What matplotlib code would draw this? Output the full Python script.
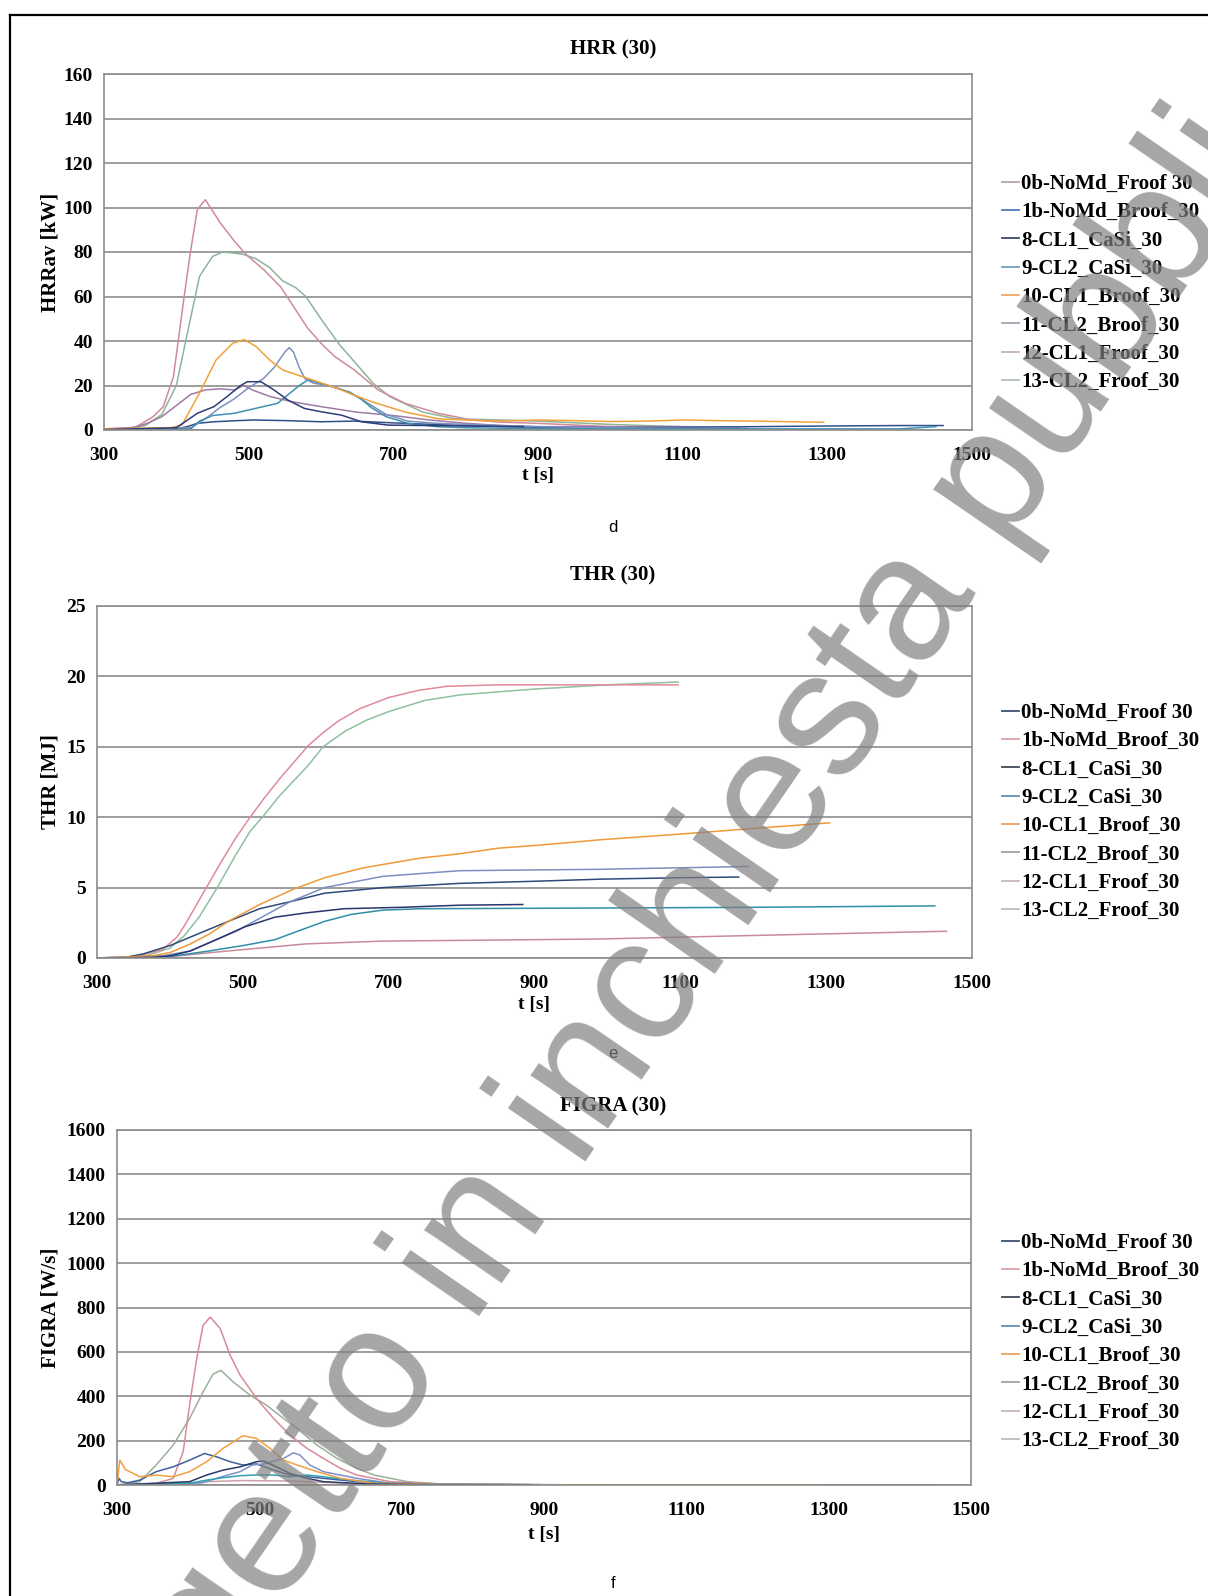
import matplotlib
matplotlib.use("Agg")
import matplotlib.pyplot as plt
from matplotlib.lines import Line2D
import numpy as np

plt.rcParams['font.family'] = ['Liberation Serif', 'DejaVu Serif']

W, H = 1208, 1596

series_names = ["0b-NoMd_Froof 30", "1b-NoMd_Broof_30", "8-CL1_CaSi_30", "9-CL2_CaSi_30",
                "10-CL1_Broof_30", "11-CL2_Broof_30", "12-CL1_Froof_30", "13-CL2_Froof_30"]

# ---------------- HRR data (t [s], HRRav [kW]) ----------------
hrr_0b_t = [300, 340, 360, 380, 400, 420, 440, 460, 480, 493, 505, 530, 560, 600, 650, 700, 750, 800, 850, 900, 1000, 1100, 1180]
hrr_0b_v = [0.5, 1, 3, 6, 11, 16, 18, 18.5, 18, 20, 18, 15, 12.7, 10.5, 8, 6.5, 4.5, 3, 2, 1.5, 1.5, 1.5, 1.2]
hrr_1b_t = [300, 330, 345, 368, 382, 396, 410, 419, 429, 440, 461, 480, 496, 521, 544, 563, 581, 600, 619, 646, 679, 716, 762, 808, 850, 900, 1000, 1097]
hrr_1b_v = [0.5, 0.8, 1.5, 6, 10.5, 24, 58, 79, 99, 103.5, 93, 85, 79, 72, 64.4, 55, 46, 39, 33, 27, 18, 12, 7.5, 4.5, 3.5, 3, 1.5, 1]
hrr_8_t = [300, 400, 429, 452, 470, 489, 498, 517, 535, 554, 577, 600, 628, 656, 693, 750, 800, 880]
hrr_8_v = [0.2, 1, 7.5, 10.5, 15, 20, 21.7, 21.7, 18, 13.5, 9.7, 8.2, 6.7, 3.7, 2.2, 2, 1.8, 1.5]
hrr_9_t = [300, 420, 432, 450, 480, 500, 520, 540, 555, 570, 582, 600, 620, 640, 655, 670, 690, 720, 760, 800, 900, 1000, 1100, 1200, 1300, 1400, 1450]
hrr_9_v = [0.2, 0.5, 4, 6.5, 7.5, 9, 10.5, 12, 16, 20, 22.5, 21, 19, 17, 14, 10, 6, 3, 1.5, 1, 0.6, 0.5, 0.5, 0.5, 0.5, 0.5, 1.5]
hrr_10_t = [300, 392, 408, 432, 455, 478, 494, 510, 529, 547, 565, 593, 625, 648, 672, 717, 763, 800, 850, 900, 950, 1000, 1050, 1100, 1150, 1200, 1250, 1295]
hrr_10_v = [0.5, 1, 2.3, 16.6, 31.5, 39, 40.6, 37.6, 31.5, 27, 25, 22, 18.4, 15.4, 12.5, 8, 5, 4.5, 4, 4.5, 4.2, 3.8, 4, 4.5, 4.2, 4, 3.7, 3.5]
hrr_11_t = [300, 420, 440, 460, 480, 500, 520, 535, 550, 556, 562, 570, 578, 590, 610, 630, 650, 670, 690, 720, 760, 800, 900, 1000, 1100, 1190]
hrr_11_v = [0.2, 1, 5, 10, 14, 19, 23, 28, 35, 37, 35, 28, 23, 21, 20, 18, 15, 11, 7, 4, 3, 2.5, 1.5, 1, 0.8, 0.8]
hrr_12_t = [300, 400, 415, 429, 452, 484, 507, 554, 600, 646, 693, 739, 800, 900, 1000, 1100, 1200, 1300, 1400, 1460]
hrr_12_v = [0.2, 0.5, 1.5, 3, 3.7, 4.2, 4.5, 4.2, 3.7, 4, 3.3, 2.7, 2, 1.2, 1, 1.2, 1.5, 1.8, 2, 2]
hrr_13_t = [300, 340, 357, 380, 400, 413, 432, 450, 464, 480, 492, 510, 529, 547, 565, 579, 602, 625, 648, 672, 695, 741, 787, 850, 900, 1000, 1097]
hrr_13_v = [0.3, 0.8, 2, 7, 20, 40, 69, 78, 80, 79.5, 79, 77, 73, 67, 64, 60, 49, 38.6, 30, 21, 15, 8, 5, 4.5, 4, 2.5, 1.5]

# ---------------- THR data (t [s], THR [MJ]) ----------------
thr_0b_t = [300, 340, 364, 401, 438, 480, 523, 565, 612, 692, 797, 900, 991, 1100, 1180]
thr_0b_v = [0, 0.05, 0.3, 0.9, 1.7, 2.6, 3.5, 4.0, 4.6, 5.0, 5.3, 5.45, 5.6, 5.7, 5.75]
thr_1b_t = [300, 330, 360, 390, 410, 420, 430, 450, 470, 490, 510, 530, 550, 570, 590, 610, 630, 660, 700, 740, 780, 850, 1000, 1097]
thr_1b_v = [0, 0, 0.2, 0.6, 1.5, 2.3, 3.2, 5.0, 6.8, 8.5, 10.0, 11.4, 12.7, 13.9, 15.1, 16.0, 16.8, 17.7, 18.5, 19.0, 19.3, 19.4, 19.4, 19.4]
thr_8_t = [300, 380, 401, 428, 459, 502, 544, 586, 639, 718, 797, 884]
thr_8_v = [0, 0.05, 0.16, 0.5, 1.2, 2.2, 2.9, 3.2, 3.5, 3.6, 3.75, 3.8]
thr_9_t = [300, 400, 454, 502, 544, 575, 612, 649, 692, 744, 991, 1200, 1449]
thr_9_v = [0, 0.1, 0.5, 0.9, 1.3, 1.9, 2.6, 3.1, 3.4, 3.5, 3.55, 3.6, 3.7]
thr_10_t = [300, 375, 401, 428, 454, 480, 523, 570, 612, 665, 744, 797, 850, 903, 991, 1100, 1200, 1305]
thr_10_v = [0, 0.15, 0.4, 1.0, 1.7, 2.6, 3.8, 4.9, 5.7, 6.4, 7.1, 7.4, 7.8, 8.0, 8.4, 8.8, 9.2, 9.6]
thr_11_t = [300, 391, 428, 459, 491, 533, 565, 612, 692, 797, 991, 1193]
thr_11_v = [0, 0.16, 0.5, 1.2, 1.9, 3.1, 4.0, 5.0, 5.8, 6.2, 6.3, 6.5]
thr_12_t = [300, 391, 428, 480, 533, 586, 639, 692, 797, 991, 1200, 1465]
thr_12_v = [0, 0.05, 0.24, 0.5, 0.75, 1.0, 1.1, 1.2, 1.25, 1.35, 1.6, 1.9]
thr_13_t = [300, 330, 370, 400, 420, 440, 465, 490, 510, 530, 550, 570, 590, 610, 640, 670, 700, 750, 800, 900, 1000, 1097]
thr_13_v = [0, 0, 0.2, 0.7, 1.6, 2.9, 5.0, 7.3, 9.0, 10.2, 11.5, 12.6, 13.7, 15.0, 16.1, 16.9, 17.5, 18.3, 18.7, 19.1, 19.4, 19.6]

# ---------------- FIGRA data (t [s], FIGRA [W/s]) ----------------
fig_0b_t = [300, 303, 306, 315, 332, 355, 379, 402, 423, 440, 459, 477, 496, 520, 543, 590, 637, 684, 800, 1000, 1180]
fig_0b_v = [0, 30, 15, 10, 22, 60, 82, 112, 142, 127, 105, 90, 95, 67, 45, 30, 15, 7, 2, 0.5, 0.5]
fig_1b_t = [300, 355, 379, 393, 402, 412, 421, 431, 445, 459, 473, 496, 520, 543, 567, 590, 614, 637, 684, 750, 900, 1097]
fig_1b_v = [0, 7, 30, 150, 360, 570, 720, 757, 705, 585, 495, 390, 300, 225, 165, 120, 75, 45, 15, 5, 1, 0]
fig_8_t = [300, 402, 426, 449, 473, 496, 506, 524, 543, 567, 590, 650, 750, 880]
fig_8_v = [0, 15, 45, 67, 82, 105, 108, 82, 52, 30, 15, 5, 1, 0.5]
fig_9_t = [300, 402, 426, 449, 473, 496, 520, 543, 567, 590, 628, 684, 800, 1000, 1200, 1450]
fig_9_v = [0, 8, 22, 33, 42, 45, 45, 37, 45, 37, 22, 7, 2, 0.5, 0.5, 0.5]
fig_10_t = [300, 304, 312, 332, 355, 379, 402, 426, 449, 477, 496, 515, 534, 553, 581, 614, 661, 750, 900, 1100, 1295]
fig_10_v = [0, 112, 70, 37, 45, 37, 60, 105, 165, 222, 210, 165, 112, 90, 60, 30, 8, 3, 1, 0.5, 0.5]
fig_11_t = [300, 420, 450, 473, 490, 506, 534, 548, 557, 571, 590, 637, 684, 800, 1000, 1190]
fig_11_v = [0, 10, 40, 60, 90, 95, 120, 145, 135, 90, 60, 30, 8, 2, 0.5, 0.5]
fig_12_t = [300, 400, 426, 473, 543, 590, 637, 700, 800, 1000, 1200, 1460]
fig_12_v = [0, 3, 15, 20, 18, 12, 6, 3, 1, 0.5, 0.5, 0.5]
fig_13_t = [300, 332, 355, 379, 402, 421, 435, 446, 463, 487, 510, 534, 553, 581, 609, 637, 661, 708, 750, 900, 1097]
fig_13_v = [0, 15, 90, 180, 300, 420, 500, 517, 465, 405, 360, 300, 255, 180, 120, 75, 45, 15, 6, 1, 0]

x_ticks = [300, 500, 700, 900, 1100, 1300, 1500]
hrr_yticks = [0, 20, 40, 60, 80, 100, 120, 140, 160]
thr_yticks = [0, 5, 10, 15, 20, 25]
fig_yticks = [0, 200, 400, 600, 800, 1000, 1200, 1400, 1600]

# colours (curves / legend swatches) per chart
hrr_colors = ['#A07AA6', '#CF8A9E', '#2B3C78', '#3E8FB0', '#F2A03A', '#7E90C0', '#30508A', '#8DB597']
hrr_leg_colors = ['#B8A4AE', '#4A7EBB', '#3A4A6A', '#6FA0C0', '#F0A868', '#9CA6B2', '#C8B0B4', '#B0C0B0']
thr_colors = ['#2E4A7A', '#E08A9A', '#2A3570', '#2F8FA8', '#EE9A3A', '#7D8FC0', '#C88C98', '#8FC0A0']
thr_leg_colors = ['#3A5070', '#E0A0A8', '#404858', '#5F8FB0', '#E8A060', '#A0A0A8', '#C8B4B8', '#B8C0B8']
fig_colors = ['#3F5F9F', '#D88A9A', '#2A3A6A', '#2FA0B0', '#F0A040', '#8090C8', '#D0A0A8', '#9AB09A']
fig_leg_colors = ['#3A5070', '#E0A0A8', '#404858', '#5F8FB0', '#E8A060', '#A0A0A8', '#C8B4B8', '#B8C0B8']

hrr_data = [(hrr_0b_t, hrr_0b_v), (hrr_1b_t, hrr_1b_v), (hrr_8_t, hrr_8_v), (hrr_9_t, hrr_9_v),
            (hrr_10_t, hrr_10_v), (hrr_11_t, hrr_11_v), (hrr_12_t, hrr_12_v), (hrr_13_t, hrr_13_v)]
thr_data = [(thr_0b_t, thr_0b_v), (thr_1b_t, thr_1b_v), (thr_8_t, thr_8_v), (thr_9_t, thr_9_v),
            (thr_10_t, thr_10_v), (thr_11_t, thr_11_v), (thr_12_t, thr_12_v), (thr_13_t, thr_13_v)]
fig_data = [(fig_0b_t, fig_0b_v), (fig_1b_t, fig_1b_v), (fig_8_t, fig_8_v), (fig_9_t, fig_9_v),
            (fig_10_t, fig_10_v), (fig_11_t, fig_11_v), (fig_12_t, fig_12_v), (fig_13_t, fig_13_v)]

fig = plt.figure(figsize=(W / 100, H / 100), dpi=100)

GRID = '#8C8C8C'
TICK_FS = 14
LEG_FS = 15


def px_axes(left, right, top, bottom):
    return fig.add_axes([left / W, 1 - bottom / H, (right - left) / W, (bottom - top) / H])


def make_chart(box, data, colors, leg_colors, yticks, ylabel, title, title_y, leg_top, xlab_y, ylab_x):
    left, right, top, bottom = box
    ax = px_axes(left, right, top, bottom)
    order = [7, 1, 0, 6, 5, 3, 4, 2]
    for i in order:
        t, v = data[i]
        ax.plot(t, v, color=colors[i], lw=1.1, solid_joinstyle='round')
    ax.set_xlim(300, 1500)
    ax.set_ylim(yticks[0], yticks[-1])
    ax.set_xticks(x_ticks)
    ax.set_yticks(yticks)
    ax.tick_params(length=0, labelsize=TICK_FS, pad=8)
    ax.tick_params(axis='x', pad=12.5)
    for lab in ax.get_xticklabels() + ax.get_yticklabels():
        lab.set_fontweight('bold')
    ax.yaxis.grid(True, color=GRID, lw=1.2)
    ax.set_axisbelow(True)
    for s in ax.spines.values():
        s.set_color(GRID)
        s.set_linewidth(1.2)
    ax.set_xlabel('t [s]', fontsize=14, fontweight='bold')
    ax.xaxis.set_label_coords(0.5, -(xlab_y - 9 - bottom) / (bottom - top))
    ax.set_ylabel(ylabel, fontsize=15, fontweight='bold')
    ax.yaxis.set_label_coords(-(left - ylab_x - 9) / (right - left), 0.5)
    fig.text(613 / W, 1 - title_y / H, title, ha='center', va='center', fontsize=15, fontweight='bold')
    handles = [Line2D([], [], color=c, lw=1.3) for c in leg_colors]
    ax.legend(handles, series_names, loc='upper left', bbox_to_anchor=(1002 / W, 1 - leg_top / H),
              bbox_transform=fig.transFigure, frameon=False, borderpad=0, borderaxespad=0,
              handlelength=0.8, handletextpad=0.12, labelspacing=0.4,
              prop={'weight': 'bold', 'size': LEG_FS, 'family': 'Liberation Serif'})
    return ax


make_chart((104, 972, 74, 430), hrr_data, hrr_colors, hrr_leg_colors, hrr_yticks, 'HRRav [kW]',
           'HRR (30)', 49, 174, 476, 52)
make_chart((97, 972, 606, 958), thr_data, thr_colors, thr_leg_colors, thr_yticks, 'THR [MJ]',
           'THR (30)', 575, 703, 1005, 52)
make_chart((117, 971, 1130, 1485), fig_data, fig_colors, fig_leg_colors, fig_yticks, 'FIGRA [W/s]',
           'FIGRA (30)', 1106, 1233, 1535, 52)

# sub captions
for lab, y in [('d', 527), ('e', 1053), ('f', 1583)]:
    fig.text(613 / W, 1 - y / H, lab, ha='center', va='center', fontsize=12,
             family=['Liberation Sans', 'DejaVu Sans'])

# page border (left and top edges visible)
fig.add_artist(Line2D([10 / W, 10 / W], [0, 1 - 15 / H], transform=fig.transFigure, color='black', lw=1.6))
fig.add_artist(Line2D([10 / W, 1], [1 - 15 / H, 1 - 15 / H], transform=fig.transFigure, color='black', lw=1.6))

# watermark
fig.text(684 / W, 1 - 937 / H, 'Progetto in inchiesta pubblica', rotation=55.5, rotation_mode='anchor',
         ha='center', va='center', fontsize=128, color='#808080', alpha=0.7,
         family=['Liberation Sans', 'DejaVu Sans'], zorder=10)

fig.savefig('out.png', dpi=100, facecolor='white')
